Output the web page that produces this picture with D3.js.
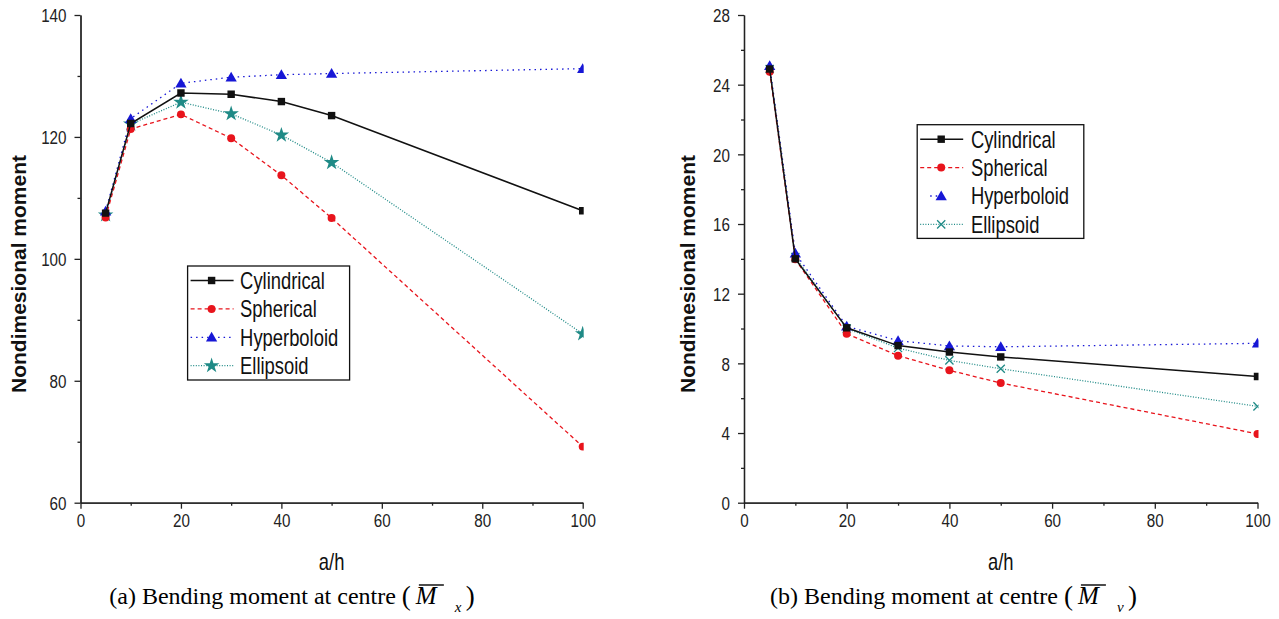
<!DOCTYPE html>
<html>
<head>
<meta charset="utf-8">
<script src="https://cdn.jsdelivr.net/npm/d3@7"></script>
<style>
  body { margin: 0; background: #fff; }
  svg { display: block; }
</style>
</head>
<body>
<script>
// data (x = a/h)
var ahValues = [5, 10, 20, 30, 40, 50, 100];
var seriesNames = ["Cylindrical", "Spherical", "Hyperboloid", "Ellipsoid"];

// panel (a): Mx
var mxCylindrical = [107.5, 122.2, 127.2, 127.0, 125.8, 123.5, 107.9];
var mxSpherical   = [106.8, 121.3, 123.7, 119.8, 113.7, 106.7, 69.2];
var mxHyperboloid = [107.8, 123.0, 128.8, 129.8, 130.2, 130.4, 131.2];
var mxEllipsoid   = [107.2, 122.1, 125.7, 123.8, 120.3, 115.8, 87.7];

// panel (b): My
var myCylindrical = [24.9, 14.0, 10.04, 9.02, 8.65, 8.37, 7.25];
var mySpherical   = [24.74, 13.97, 9.7, 8.44, 7.6, 6.87, 3.95];
var myHyperboloid = [25.09, 14.32, 10.13, 9.3, 9.0, 8.95, 9.15];
var myEllipsoid   = [24.9, 14.1, 10.0, 8.88, 8.17, 7.69, 5.53];

// tick values
var xMajorTicks = [0, 20, 40, 60, 80, 100];
var xMinorTicks = [10, 30, 50, 70, 90];
var mxMajorTicks = [60, 80, 100, 120, 140];
var mxMinorTicks = [70, 90, 110, 130];
var myMajorTicks = [0, 4, 8, 12, 16, 20, 24, 28];
var myMinorTicks = [2, 6, 10, 14, 18, 22, 26];

// styles per series
var styles = {
  Cylindrical: {color: "#111111", dash: null, width: 1.5, marker: "square"},
  Spherical:   {color: "#e8141c", dash: "4,3", width: 1.3, marker: "circle"},
  Hyperboloid: {color: "#1717d6", dash: "1.5,4", width: 1.3, marker: "triangle"},
  Ellipsoid:   {color: "#1f8a86", dash: "1,1.6", width: 1.3, marker: "star"}
};

// the chart text in the figure is horizontally squeezed
var squeeze = 0.8;
var sansFont = "'Liberation Sans', Arial, sans-serif";
var serifFont = "'Liberation Serif', 'Times New Roman', serif";

var svg = d3.select("body").append("svg")
  .attr("width", 1279)
  .attr("height", 619);

drawPanel({
  id: "a",
  xRange: [80.5, 582.7],
  yRange: [502.7, 15],
  yDomain: [60, 140],
  yMajor: mxMajorTicks,
  yMinor: mxMinorTicks,
  values: [mxCylindrical, mxSpherical, mxHyperboloid, mxEllipsoid],
  ellipsoidMarker: "star",
  titleX: 26,
  legend: {x: 187.6, y: 266, w: 162, h: 114, textX: 52.5},
  caption: {x: 109.3, label: "(a)", sub: "x"}
});

drawPanel({
  id: "b",
  xRange: [744, 1257.5],
  yRange: [502.7, 15],
  yDomain: [0, 28],
  yMajor: myMajorTicks,
  yMinor: myMinorTicks,
  values: [myCylindrical, mySpherical, myHyperboloid, myEllipsoid],
  ellipsoidMarker: "cross",
  titleX: 695,
  legend: {x: 917.2, y: 124.7, w: 166.6, h: 113.7, textX: 53.7},
  caption: {x: 770, label: "(b)", sub: "v"}
});

function drawPanel(cfg) {
  var xScale = d3.scaleLinear().domain([0, 100]).range(cfg.xRange);
  var yScale = d3.scaleLinear().domain(cfg.yDomain).range(cfg.yRange);
  var x0 = cfg.xRange[0], x1 = cfg.xRange[1];
  var yBottom = cfg.yRange[0], yTop = cfg.yRange[1];

  var g = svg.append("g");

  // clip so the markers at a/h = 100 get cut like in the figure
  g.append("clipPath")
    .attr("id", "clip-" + cfg.id)
    .append("rect")
    .attr("x", x0 - 20)
    .attr("y", yTop - 20)
    .attr("width", x1 - x0 + 21)
    .attr("height", yBottom - yTop + 40);

  // minor ticks first, then major axes with labels
  g.append("g")
    .attr("transform", "translate(0," + yBottom + ")")
    .call(d3.axisBottom(xScale).tickValues(xMinorTicks).tickSize(3).tickSizeOuter(0).tickFormat(""));
  g.append("g")
    .attr("transform", "translate(" + x0 + ",0)")
    .call(d3.axisLeft(yScale).tickValues(cfg.yMinor).tickSize(3).tickSizeOuter(0).tickFormat(""));

  var xAxisG = g.append("g")
    .attr("transform", "translate(0," + yBottom + ")")
    .call(d3.axisBottom(xScale).tickValues(xMajorTicks).tickSize(6).tickSizeOuter(0));
  var yAxisG = g.append("g")
    .attr("transform", "translate(" + x0 + ",0)")
    .call(d3.axisLeft(yScale).tickValues(cfg.yMajor).tickSize(6).tickSizeOuter(0));

  g.selectAll(".domain, .tick line")
    .attr("stroke", "#222")
    .attr("stroke-width", 1.3);

  // tick labels, squeezed like the original
  xAxisG.selectAll(".tick text")
    .attr("x", 0)
    .attr("y", 11)
    .attr("dy", "0.71em")
    .attr("transform", "scale(" + squeeze + ",1)")
    .style("font-family", sansFont)
    .style("font-size", "19px")
    .attr("fill", "#222");

  yAxisG.selectAll(".tick text")
    .attr("x", -14 / squeeze)
    .attr("dy", "0.36em")
    .attr("transform", "scale(" + squeeze + ",1)")
    .style("font-family", sansFont)
    .style("font-size", "19px")
    .attr("fill", "#222");

  // axis titles
  addSqueezedText(g, (x0 + x1) / 2, 570, "a/h", 23, "middle");

  g.append("text")
    .attr("transform", "translate(" + cfg.titleX + "," + 274 + ") rotate(-90)")
    .attr("text-anchor", "middle")
    .style("font-family", sansFont)
    .style("font-size", "21px")
    .style("font-weight", "bold")
    .attr("fill", "#111")
    .text("Nondimesional moment");

  // series lines and markers
  var plot = g.append("g").attr("clip-path", "url(#clip-" + cfg.id + ")");
  var line = d3.line()
    .x(function(d) { return xScale(d[0]); })
    .y(function(d) { return yScale(d[1]); });

  // draw order: ellipsoid, hyperboloid, spherical, cylindrical on top
  [3, 2, 1, 0].forEach(function(i) {
    var name = seriesNames[i];
    var st = styles[name];
    var pts = ahValues.map(function(a, k) { return [a, cfg.values[i][k]]; });

    plot.append("path")
      .datum(pts)
      .attr("d", line)
      .attr("fill", "none")
      .attr("stroke", st.color)
      .attr("stroke-width", st.width)
      .attr("stroke-dasharray", st.dash);

    var marker = name === "Ellipsoid" ? cfg.ellipsoidMarker : st.marker;
    pts.forEach(function(p) {
      drawMarker(plot, xScale(p[0]), yScale(p[1]), marker, st.color);
    });
  });

  drawLegend(g, cfg);
  drawCaption(cfg.caption);
}

function drawMarker(parent, cx, cy, kind, color) {
  var sym, size, filled = true;
  if (kind === "square") { sym = d3.symbolSquare; size = 55; }
  else if (kind === "circle") { sym = d3.symbolCircle; size = 50; }
  else if (kind === "triangle") { sym = d3.symbolTriangle; size = 55; }
  else if (kind === "star") { sym = d3.symbolStar; size = 75; }
  else { sym = d3.symbolX; size = 45; filled = false; }

  var path = parent.append("path")
    .attr("d", d3.symbol().type(sym).size(size)())
    .attr("transform", "translate(" + cx + "," + (kind === "triangle" ? cy + 1 : cy) + ")");
  if (filled) {
    path.attr("fill", color).attr("stroke", "none");
  } else {
    path.attr("fill", "none").attr("stroke", color).attr("stroke-width", 1.3);
  }
}

function drawLegend(g, cfg) {
  var lg = cfg.legend;
  var rowGap = 28.4;

  g.append("rect")
    .attr("x", lg.x)
    .attr("y", lg.y)
    .attr("width", lg.w)
    .attr("height", lg.h)
    .attr("fill", "#fff")
    .attr("stroke", "#111")
    .attr("stroke-width", 1.3);

  seriesNames.forEach(function(name, i) {
    var st = styles[name];
    var cy = lg.y + 14.5 + i * rowGap;
    var mx = lg.x + 24;
    var lx0 = lg.x + 3, lx1 = lg.x + 46;
    // panel (b) only shows a stub of the hyperboloid line
    if (cfg.id === "b" && name === "Hyperboloid") { lx0 = mx - 11; lx1 = mx; }

    g.append("line")
      .attr("x1", lx0).attr("x2", lx1)
      .attr("y1", cy).attr("y2", cy)
      .attr("stroke", st.color)
      .attr("stroke-width", st.width)
      .attr("stroke-dasharray", st.dash);

    var marker = name === "Ellipsoid" ? cfg.ellipsoidMarker : st.marker;
    drawMarker(g, mx, cy, marker, st.color);

    addSqueezedText(g, lg.x + lg.textX, cy + 8.3, name, 23, "start");
  });
}

function addSqueezedText(parent, x, y, str, size, anchor) {
  return parent.append("text")
    .attr("transform", "translate(" + x + "," + y + ") scale(" + squeeze + ",1)")
    .attr("text-anchor", anchor)
    .style("font-family", sansFont)
    .style("font-size", size + "px")
    .attr("fill", "#111")
    .text(str);
}

function drawCaption(c) {
  var base = 604;
  var t = svg.append("text")
    .attr("x", c.x)
    .attr("y", base)
    .style("font-family", serifFont)
    .style("font-size", "24px")
    .attr("fill", "#000")
    .text(c.label + " Bending moment at centre");
  var px = c.x + t.node().getComputedTextLength() + 6;

  svg.append("text")
    .attr("x", px).attr("y", base + 1)
    .style("font-family", serifFont)
    .style("font-size", "27px")
    .text("(");
  svg.append("text")
    .attr("x", px + 14).attr("y", base)
    .style("font-family", serifFont)
    .style("font-size", "25px")
    .style("font-style", "italic")
    .text("M");
  // bar over the M
  svg.append("line")
    .attr("x1", px + 17).attr("x2", px + 42)
    .attr("y1", base - 19).attr("y2", base - 19)
    .attr("stroke", "#000")
    .attr("stroke-width", 1.4);
  svg.append("text")
    .attr("x", px + 53).attr("y", base + 8)
    .style("font-family", serifFont)
    .style("font-size", "15px")
    .style("font-style", "italic")
    .text(c.sub);
  svg.append("text")
    .attr("x", px + 64).attr("y", base + 1)
    .style("font-family", serifFont)
    .style("font-size", "27px")
    .text(")");
}
</script>
</body>
</html>
